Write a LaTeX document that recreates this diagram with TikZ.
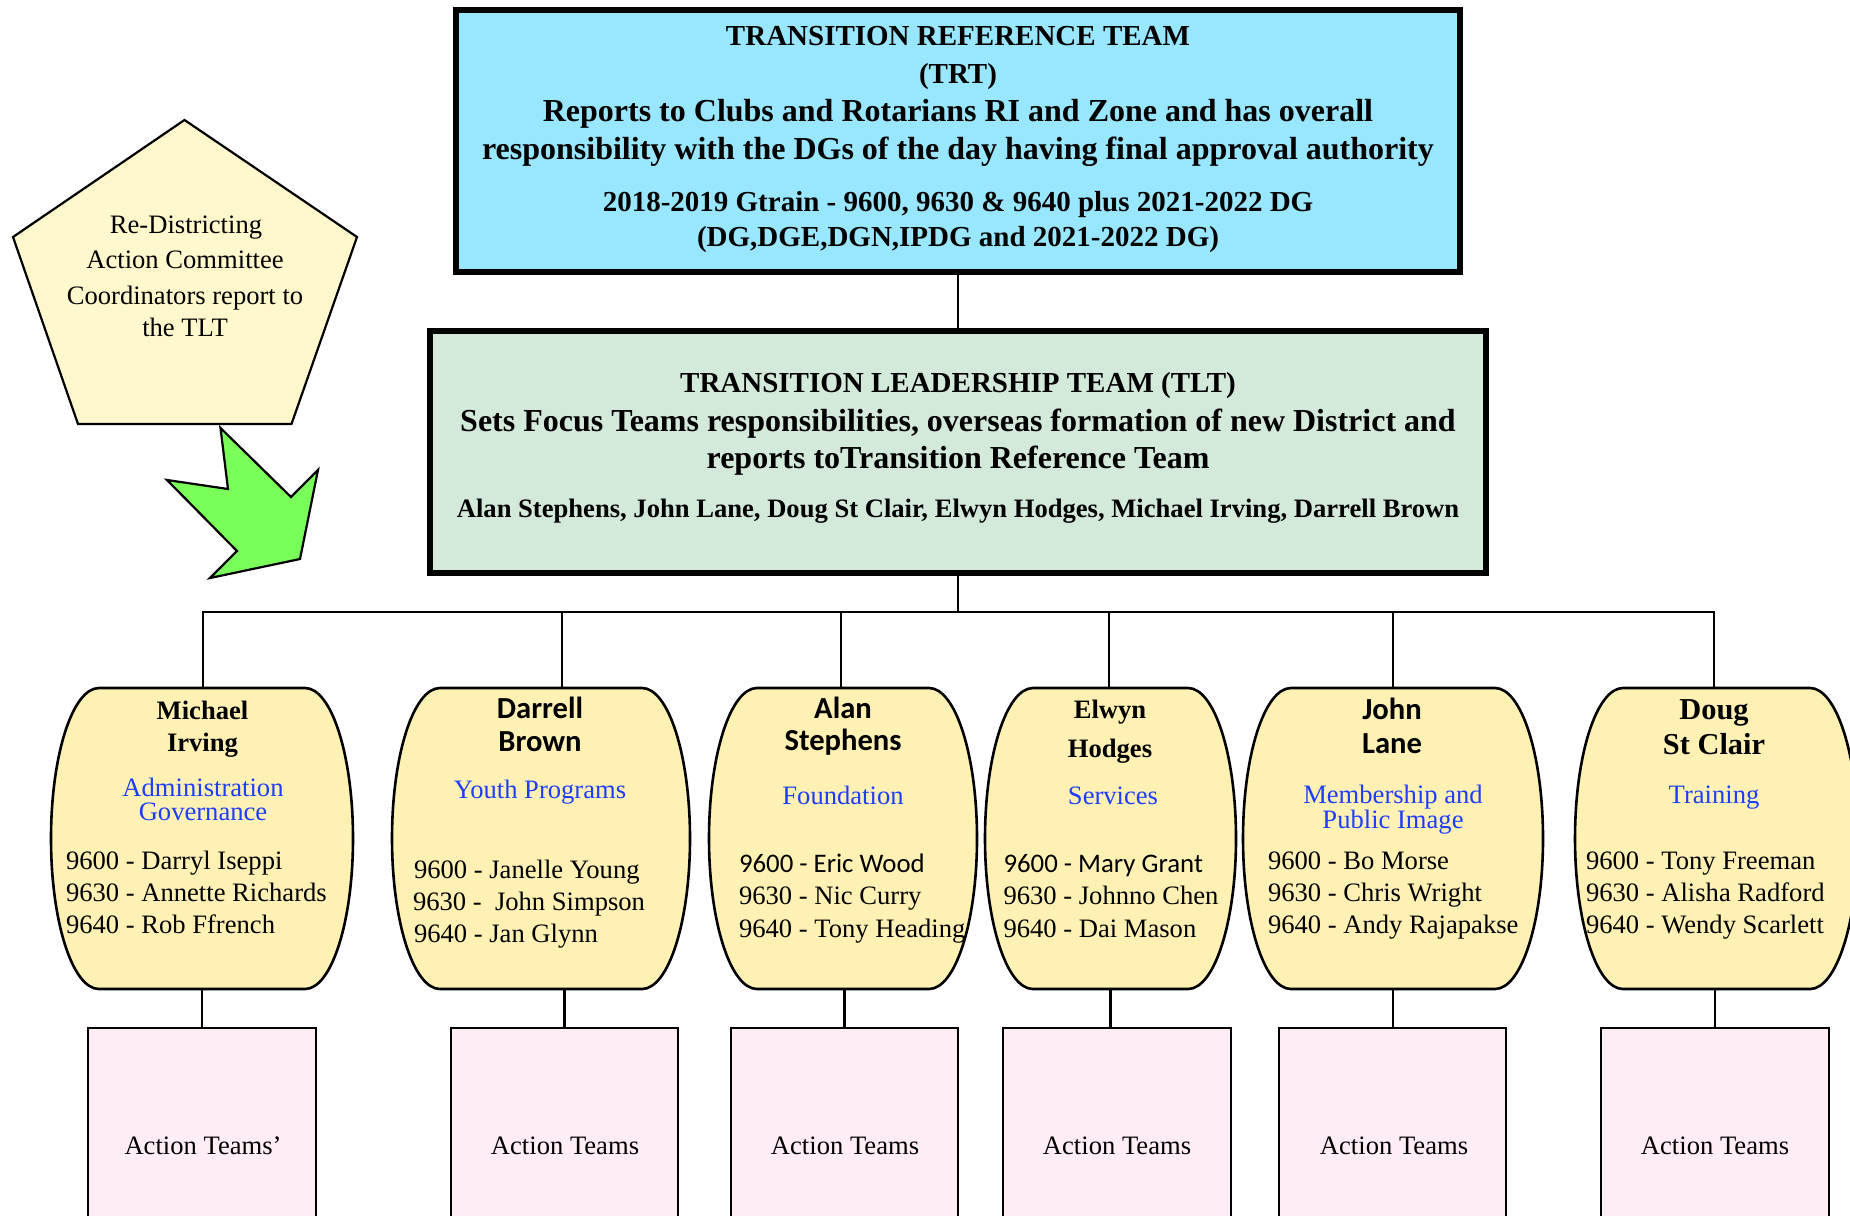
\documentclass[tikz,border=0pt]{standalone}
\usepackage{fontspec}
\setmainfont{Liberation Serif}
\newfontfamily\carlitofont{Carlito}
\usetikzlibrary{calc}
\definecolor{trtfill}{HTML}{99E6FF}
\definecolor{tltfill}{HTML}{D3E9D9}
\definecolor{barfill}{HTML}{FFF1B3}
\definecolor{pentfill}{HTML}{FFF8CD}
\definecolor{arrowgreen}{HTML}{7AFF5A}
\definecolor{actfill}{HTML}{FFEDF5}
\definecolor{bluetext}{HTML}{1F3DFF}
% barrel: flat top/bottom, half-elliptic sides (inset 48, half height 150.5)
\newcommand\mybarrel[3]{%
  \draw[barline] ({#2+48},688) -- ({#3-48},688)
    .. controls ({#3-21.5},688) and (#3,755.4) .. (#3,838.5)
    .. controls (#3,921.6) and ({#3-21.5},989) .. ({#3-48},989)
    -- ({#2+48},989)
    .. controls ({#2+21.5},989) and (#2,921.6) .. (#2,838.5)
    .. controls (#2,755.4) and ({#2+21.5},688) .. ({#2+48},688) -- cycle;
  \node[barnode, minimum width={(#3-#2)*0.5pt}] (#1) at ({(#2+#3)/2},838.5) {};
}
\begin{document}
\begin{tikzpicture}[x=0.5pt,y=-0.5pt,
  conn/.style={draw=black, line width=1.1pt},
  bigbox/.style={draw=black, line width=3.2pt, inner sep=0pt, outer sep=0pt},
  barnode/.style={inner sep=0pt, outer sep=0pt, minimum height=150.5pt},
  barline/.style={draw=black, line width=1.3pt, fill=barfill},
  actbox/.style={draw=black, line width=1.2pt, fill=actfill, inner sep=0pt, outer sep=0pt, minimum width=113.75pt, minimum height=119pt},
  txt/.style={anchor=base, inner sep=0pt, outer sep=0pt},
  txtw/.style={anchor=base west, inner sep=0pt, outer sep=0pt},
  hb/.style={font=\fontsize{14.5}{17}\selectfont\bfseries},
  hbl/.style={font=\fontsize{16}{19}\selectfont\bfseries},
  nb/.style={font=\fontsize{13.3}{16}\selectfont\bfseries},
  rg/.style={font=\fontsize{13.3}{16}\selectfont},
  bluetxt/.style={rg, text=bluetext},
  cb/.style={font=\fontsize{15.3}{18}\selectfont\carlitofont\bfseries},
  cr/.style={font=\fontsize{13.4}{16}\selectfont\carlitofont},
  bb/.style={font=\fontsize{15.2}{18}\selectfont\bfseries},
]
\path[use as bounding box, fill=white] (0,0) rectangle (1850,1215);

% pentagon and arrow
\draw[line width=1.1pt, fill=pentfill] (184.5,120) -- (357,237) -- (291.5,424) -- (78,424) -- (13,237) -- cycle;
\node[txt, rg] (p1) at (186,233) {Re-Districting};
\node[txt, rg] (p2) at (185,268) {Action Committee};
\node[txt, rg] (p3) at (185,304.5) {Coordinators report to};
\node[txt, rg] (p4) at (185,336) {the TLT};
\draw[line width=1.1pt, fill=arrowgreen, line join=miter] (220.5,428) -- (291,497) -- (318,470) -- (300,559) -- (210,578) -- (237,551) -- (167,480) -- (228,489) -- cycle;

% TRT
\node[bigbox, fill=trtfill, minimum width=501.8pt, minimum height=130.8pt] (trt) at (958,141) {};
\node[txt, hb] (trt1) at (958,45) {TRANSITION REFERENCE TEAM};
\node[txt, hb] (trt2) at (958,83) {(TRT)};
\node[txt, hbl] (trt3) at (958,121.5) {Reports to Clubs and Rotarians RI and Zone and has overall};
\node[txt, hbl] (trt4) at (958,159.5) {responsibility with the DGs of the day having final approval authority};
\node[txt, hb] (trt5) at (958,211) {2018-2019 Gtrain - 9600, 9630 \& 9640 plus 2021-2022 DG};
\node[txt, hb] (trt6) at (958,246.5) {(DG,DGE,DGN,IPDG and 2021-2022 DG)};

% TLT
\node[bigbox, fill=tltfill, minimum width=527.8pt, minimum height=120.8pt] (tlt) at (958,452) {};
\node[txt, hb] (tlt1) at (958,392.7) {TRANSITION LEADERSHIP TEAM (TLT)};
\node[txt, hbl] (tlt2) at (958,431) {Sets Focus Teams responsibilities, overseas formation of new District and};
\node[txt, hbl] (tlt3) at (958,468) {reports toTransition Reference Team};
\node[txt, nb] (tlt4) at (958,517) {Alan Stephens, John Lane, Doug St Clair, Elwyn Hodges, Michael Irving, Darrell Brown};

\draw[conn] (trt.south) -- (tlt.north);

% barrels
\mybarrel{b1}{51}{353}
\mybarrel{b2}{392}{690}
\mybarrel{b3}{709}{977}
\mybarrel{b4}{985}{1236}
\mybarrel{b5}{1243}{1543}
\mybarrel{b6}{1575}{1858}

% bus
\coordinate (bus) at (958,612);
\coordinate (d1) at (203,612);
\coordinate (d2) at (562,612);
\coordinate (d3) at (841,612);
\coordinate (d4) at (1109,612);
\coordinate (d5) at (1393,612);
\coordinate (d6) at (1714,612);
\draw[conn] (tlt.south) -- (bus);
\draw[conn] (d1 |- b1.north) -- (d1) -- (d6) -- (d6 |- b6.north);
\draw[conn] (d2) -- (d2 |- b2.north);
\draw[conn] (d3) -- (d3 |- b3.north);
\draw[conn] (d4) -- (d4 |- b4.north);
\draw[conn] (d5) -- (d5 |- b5.north);

% barrel 1
\node[txt, nb] (n1a) at (202.5,719) {Michael};
\node[txt, nb] (n1b) at (202.5,751) {Irving};
\node[txt, bluetxt] (s1a) at (203,796) {Administration};
\node[txt, bluetxt] (s1b) at (203,820) {Governance};
\node[txtw, rg] (m1a) at (66,869) {9600 - Darryl Iseppi};
\node[txtw, rg] (m1b) at (66,901) {9630 - Annette Richards};
\node[txtw, rg] (m1c) at (66,933) {9640 - Rob Ffrench};
% barrel 2
\node[txt, cb] (n2a) at (540,718) {Darrell};
\node[txt, cb] (n2b) at (540,751) {Brown};
\node[txt, bluetxt] (s2a) at (540,798) {Youth Programs};
\node[txtw, rg] (m2a) at (414,878) {9600 - Janelle Young};
\node[txtw, rg] (m2b) at (413,910) {9630 - \ John Simpson};
\node[txtw, rg] (m2c) at (414,942) {9640 - Jan Glynn};
% barrel 3
\node[txt, cb] (n3a) at (843,718) {Alan};
\node[txt, cb] (n3b) at (843,750) {Stephens};
\node[txt, bluetxt] (s3a) at (843,804) {Foundation};
\node[txtw, cr] (m3a) at (739,872) {9600 - Eric Wood};
\node[txtw, rg] (m3b) at (739,904) {9630 - Nic Curry};
\node[txtw, rg] (m3c) at (739,937) {9640 - Tony Heading};
% barrel 4
\node[txt, nb] (n4a) at (1110,718) {Elwyn};
\node[txt, nb] (n4b) at (1110,757) {Hodges};
\node[txt, bluetxt] (s4a) at (1113,804) {Services};
\node[txtw, cr] (m4a) at (1003.5,872) {9600 - Mary Grant};
\node[txtw, rg] (m4b) at (1003.5,904) {9630 - Johnno Chen};
\node[txtw, rg] (m4c) at (1003.5,937) {9640 - Dai Mason};
% barrel 5
\node[txt, cb] (n5a) at (1392,719) {John};
\node[txt, cb] (n5b) at (1392,753) {Lane};
\node[txt, bluetxt] (s5a) at (1393,803) {Membership and};
\node[txt, bluetxt] (s5b) at (1393,828) {Public Image};
\node[txtw, rg] (m5a) at (1268,869) {9600 - Bo Morse};
\node[txtw, rg] (m5b) at (1268,901) {9630 - Chris Wright};
\node[txtw, rg] (m5c) at (1268,933) {9640 - Andy Rajapakse};
% barrel 6
\node[txt, bb] (n6a) at (1714,719) {Doug};
\node[txt, bb] (n6b) at (1714,754) {St Clair};
\node[txt, bluetxt] (s6a) at (1714,803) {Training};
\node[txtw, rg] (m6a) at (1586,869) {9600 - Tony Freeman};
\node[txtw, rg] (m6b) at (1586,901) {9630 - Alisha Radford};
\node[txtw, rg] (m6c) at (1586,933) {9640 - Wendy Scarlett};

% action team boxes
\node[actbox] (a1) at (202,1147) {};
\node[actbox] (a2) at (564.5,1147) {};
\node[actbox] (a3) at (844.5,1147) {};
\node[actbox] (a4) at (1117,1147) {};
\node[actbox] (a5) at (1392.5,1147) {};
\node[actbox] (a6) at (1715,1147) {};
\node[txt, rg] (at1) at (203,1154) {Action Teams'};
\node[txt, rg] (at2) at (565,1154) {Action Teams};
\node[txt, rg] (at3) at (845,1154) {Action Teams};
\node[txt, rg] (at4) at (1117,1154) {Action Teams};
\node[txt, rg] (at5) at (1394,1154) {Action Teams};
\node[txt, rg] (at6) at (1715,1154) {Action Teams};

\draw[conn] (b1.south) -- (a1.north);
\draw[conn] (a2.north |- b2.south) -- (a2.north);
\draw[conn] (a3.north |- b3.south) -- (a3.north);
\draw[conn] (b4.south) -- (b4.south |- a4.north);
\draw[conn] (b5.south) -- (b5.south |- a5.north);
\draw[conn] (a6.north |- b6.south) -- (a6.north);
\end{tikzpicture}
\end{document}
